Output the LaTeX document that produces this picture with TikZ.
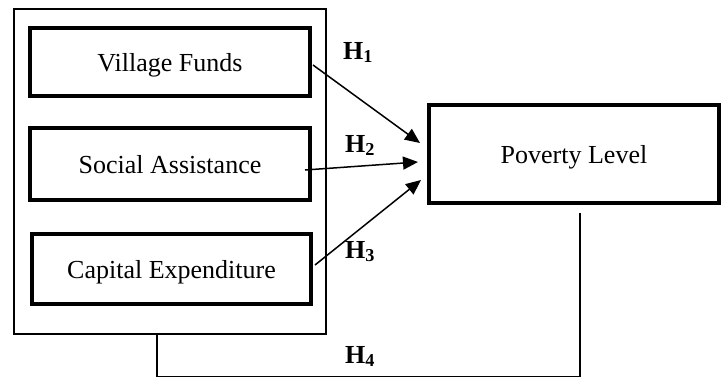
\documentclass[tikz,border=0pt]{standalone}
\usepackage{fontspec}
\setmainfont{Liberation Serif}
\usetikzlibrary{arrows.meta,calc}
\begin{document}
\begin{tikzpicture}[x=1pt,y=-1pt,
  varbox/.style={draw,line width=4pt,inner sep=0pt,text depth=0pt,font=\fontsize{26}{31}\selectfont},
  thinline/.style={line width=1.5pt},
  hyparrow/.style={line width=1.5pt,-{Triangle[length=15pt,width=13pt]}},
  hlabel/.style={anchor=base west,inner sep=0pt,font=\bfseries\fontsize{26}{31}\selectfont}]
\useasboundingbox[fill=white] (0,0) rectangle (726,378);
\node[draw,thinline,minimum width=312pt,minimum height=325pt,inner sep=0pt] (outer) at (170,171.5) {};
\node[varbox,minimum width=280pt,minimum height=68pt] (vf) at (170,62) {Village Funds};
\node[varbox,minimum width=280pt,minimum height=72pt] (sa) at (170,164) {Social Assistance};
\node[varbox,minimum width=279pt,minimum height=70pt] (ce) at (171.5,269) {Capital Expenditure};
\node[varbox,minimum width=290pt,minimum height=98pt] (pov) at (574,154) {Poverty Level};
\draw[hyparrow] ($(vf.east)+(1,3)$) -- ($(pov.west)+(-7,-11)$);
\draw[hyparrow] ($(sa.east)+(-7,6)$) -- ($(pov.west)+(-9,8)$);
\draw[hyparrow] ($(ce.east)+(2,-4)$) -- ($(pov.west)+(-6,26)$);
\node[hlabel] (h1) at (343,59) {H\textsubscript{1}};
\node[hlabel] (h2) at (345,152) {H\textsubscript{2}};
\node[hlabel] (h3) at (345,258) {H\textsubscript{3}};
\node[hlabel] (h4) at (345,363) {H\textsubscript{4}};
\coordinate (h4a) at (157,334);
\coordinate (h4c) at (157,376.5);
\coordinate (h4b) at (580,213);
\draw[thinline] (h4a) -- (h4c) -| (h4b);
\end{tikzpicture}
\end{document}
